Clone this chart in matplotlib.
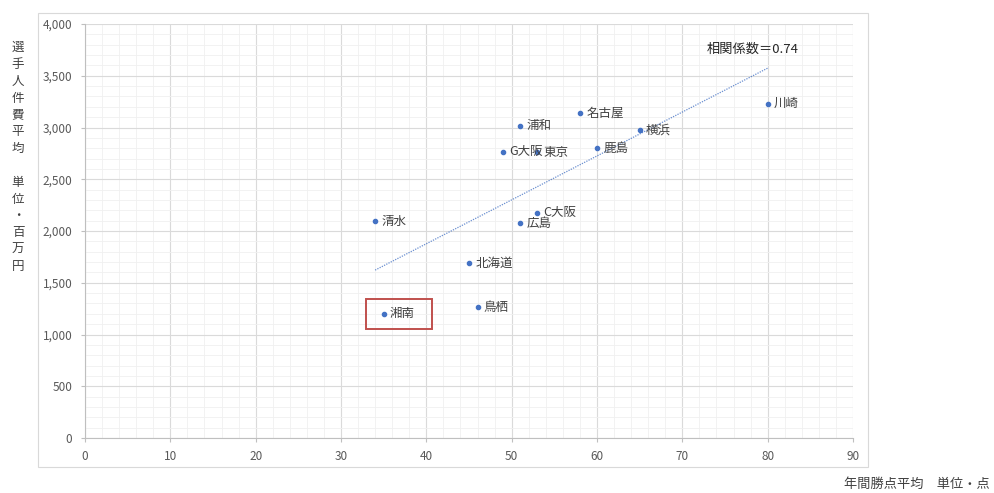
import numpy as np
import matplotlib.pyplot as plt
from matplotlib.patches import Rectangle
from matplotlib.ticker import MultipleLocator, FuncFormatter

plt.rcParams["font.family"] = ["Noto Sans CJK JP", "DejaVu Sans"]

# チーム別: 年間勝点平均 と 選手人件費平均(百万円)
teams = ["川崎", "名古屋", "浦和", "横浜", "G大阪", "東京", "鹿島",
         "C大阪", "広島", "清水", "北海道", "鳥栖", "湘南"]
points = [80, 58, 51, 65, 49, 53, 60, 53, 51, 34, 45, 46, 35]
salary = [3230, 3140, 3015, 2975, 2765, 2760, 2800, 2175, 2075, 2095, 1690, 1265, 1200]

BLUE = "#4472C4"
GRID_MAJOR = "#dadada"
GRID_MINOR = "#f0f0f0"
TXT = "#595959"

fig = plt.figure(figsize=(9.95, 4.93), dpi=100)
ax = fig.add_axes([85 / 995, 55 / 493, 768 / 995, 414 / 493])

# outer chart frame
fig.add_artist(Rectangle((38 / 995, 26 / 493), 830 / 995, 454 / 493,
                         transform=fig.transFigure, fill=False,
                         edgecolor="#d9d9d9", lw=0.8))

x = np.array(points, dtype=float)
y = np.array(salary, dtype=float)
ax.scatter(x, y, s=9, color=BLUE, zorder=4)

# linear trendline over the data range
k, b = np.polyfit(x, y, 1)
xs = np.array([x.min(), x.max()])
ax.plot(xs, k * xs + b, color=BLUE, lw=0.9, ls=(0, (1, 1)), alpha=0.8, zorder=3)
r = np.corrcoef(x, y)[0, 1]
ax.text(x.max() - 1.7, k * x.max() + b + 180, f"相関係数＝{r:.2f}",
        ha="center", va="center", fontsize=9.5, color="#262626")

for t, px, py in zip(teams, points, salary):
    ax.annotate(t, (px, py), xytext=(4.5, 0), textcoords="offset points",
                va="center", ha="left", fontsize=9, color="#404040", zorder=5)

# 湘南 highlight box
ax.add_patch(Rectangle((32.9, 1053), 7.8, 290, fill=False,
                       edgecolor="#c0504d", lw=1.4, zorder=5))

ax.set_xlim(0, 90)
ax.set_ylim(0, 4000)
ax.xaxis.set_major_locator(MultipleLocator(10))
ax.xaxis.set_minor_locator(MultipleLocator(2))
ax.yaxis.set_major_locator(MultipleLocator(500))
ax.yaxis.set_minor_locator(MultipleLocator(100))
ax.yaxis.set_major_formatter(FuncFormatter(lambda v, _: f"{v:,.0f}"))
ax.grid(True, which="major", color=GRID_MAJOR, lw=0.8, zorder=0)
ax.grid(True, which="minor", color=GRID_MINOR, lw=0.6, zorder=0)
ax.set_axisbelow(True)
for s in ["top", "right"]:
    ax.spines[s].set_visible(False)
for s in ["left", "bottom"]:
    ax.spines[s].set_color("#bfbfbf")
    ax.spines[s].set_linewidth(0.8)
ax.tick_params(which="major", length=3, width=0.8, color="#bfbfbf",
               labelsize=8.5, labelcolor=TXT, pad=6)
ax.tick_params(which="minor", length=0)

ylab = "選手人件費平均　単位・百万円"
fig.text(18 / 995, 1 - 157 / 493, "\n".join(ylab), ha="center", va="center",
         fontsize=9, color="#404040", linespacing=1.38)
fig.text(990 / 995, 1 - 484 / 493, "年間勝点平均　単位・点", ha="right",
         va="center", fontsize=9.5, color="#404040")

fig.savefig("out.png", dpi=100, facecolor="white")
